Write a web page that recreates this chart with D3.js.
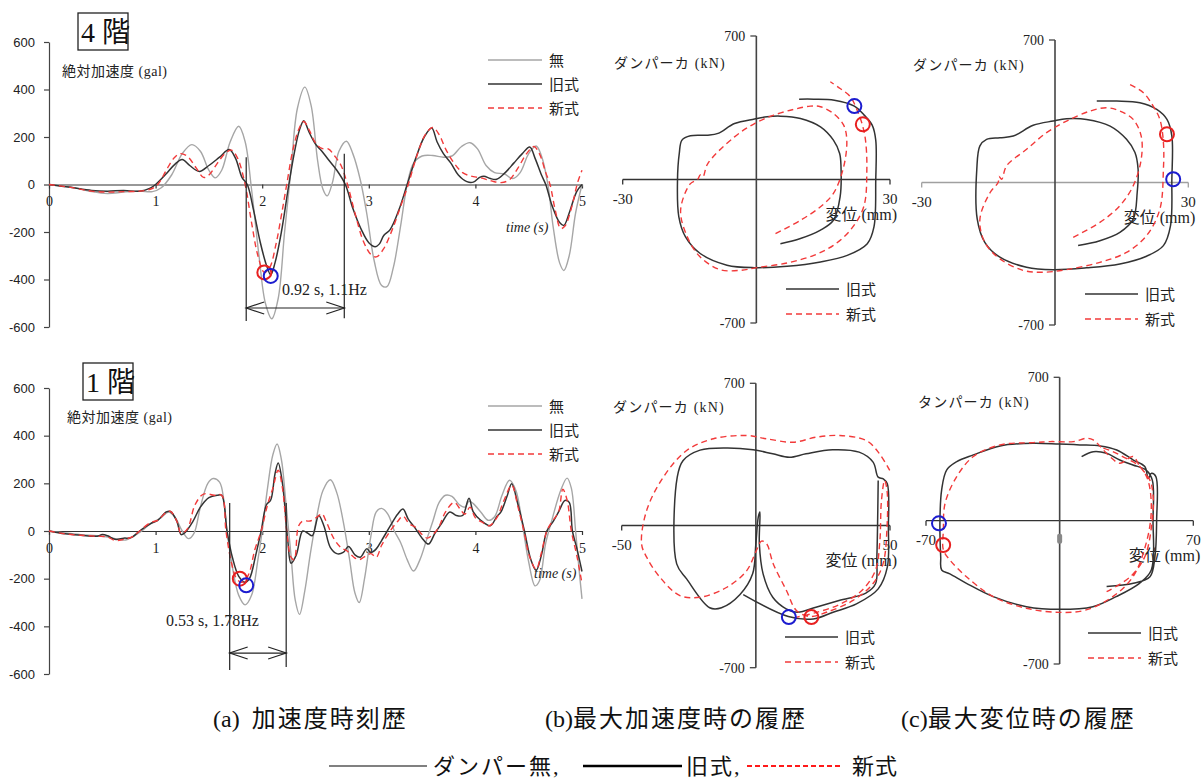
<!DOCTYPE html>
<html>
<head>
<meta charset="utf-8">
<script src="https://cdn.jsdelivr.net/npm/d3@7"></script>
<style>
  html, body { margin: 0; padding: 0; background: #fff; }
  svg { display: block; }
  text { white-space: pre; }
</style>
</head>
<body>
<svg id="fig" width="1203" height="779"></svg>
<script>
// ---------- data ----------
const timeTicks = [0, 1, 2, 3, 4, 5];
const galTicks = [-600, -400, -200, 0, 200, 400, 600];

// absolute acceleration, 4th floor [time s, gal]
const acc4None = [[0,0],[0.2,-10],[0.4,-30],[0.55,-38],[0.7,-32],[0.85,-28],[0.97,-30],[1.05,-15],[1.15,40],[1.25,130],[1.34,168],[1.42,140],[1.5,60],[1.56,28],[1.62,60],[1.7,180],[1.78,245],[1.84,180],[1.9,-20],[1.97,-300],[2.03,-500],[2.09,-565],[2.15,-480],[2.21,-200],[2.27,60],[2.33,320],[2.4,410],[2.46,330],[2.52,100],[2.57,-20],[2.61,-48],[2.66,10],[2.72,140],[2.79,182],[2.85,130],[2.92,20],[2.98,-120],[3.05,-320],[3.12,-425],[3.17,-430],[3.23,-350],[3.3,-170],[3.36,0],[3.42,90],[3.5,120],[3.6,122],[3.7,115],[3.78,120],[3.87,160],[3.95,176],[4.02,150],[4.1,80],[4.18,50],[4.27,45],[4.35,25],[4.42,50],[4.5,130],[4.57,162],[4.62,120],[4.68,0],[4.73,-180],[4.79,-330],[4.83,-362],[4.88,-300],[4.94,-120],[5,0]];
const acc4Old = [[0,0],[0.2,-12],[0.4,-25],[0.55,-28],[0.7,-25],[0.85,-28],[0.95,-15],[1.0,0],[1.1,45],[1.18,85],[1.25,105],[1.32,80],[1.41,55],[1.5,80],[1.6,115],[1.69,147],[1.75,110],[1.81,30],[1.86,0],[1.92,-110],[1.98,-240],[2.04,-340],[2.08,-380],[2.12,-330],[2.18,-200],[2.25,0],[2.3,130],[2.35,230],[2.39,268],[2.44,220],[2.5,170],[2.56,140],[2.62,105],[2.7,60],[2.78,0],[2.85,-100],[2.93,-190],[3.0,-245],[3.06,-262],[3.1,-250],[3.14,-215],[3.2,-190],[3.28,-110],[3.36,0],[3.44,110],[3.52,200],[3.59,238],[3.64,180],[3.7,130],[3.77,90],[3.84,40],[3.92,12],[3.98,10],[4.04,30],[4.08,35],[4.14,25],[4.2,22],[4.28,50],[4.36,90],[4.44,130],[4.51,158],[4.56,110],[4.62,40],[4.66,0],[4.72,-90],[4.79,-160],[4.83,-172],[4.88,-120],[4.95,-30],[5,0]];
const acc4New = [[0,0],[0.2,-12],[0.4,-28],[0.55,-32],[0.7,-30],[0.85,-28],[0.95,-20],[1.02,0],[1.1,60],[1.17,110],[1.23,130],[1.3,118],[1.38,70],[1.45,30],[1.5,40],[1.58,90],[1.65,130],[1.71,145],[1.77,110],[1.84,0],[1.9,-160],[1.96,-300],[2.02,-370],[2.07,-350],[2.13,-250],[2.18,-130],[2.23,0],[2.29,150],[2.35,240],[2.39,265],[2.44,230],[2.5,175],[2.56,152],[2.62,150],[2.68,120],[2.74,80],[2.8,0],[2.87,-120],[2.95,-240],[3.02,-295],[3.07,-305],[3.14,-270],[3.22,-190],[3.3,-90],[3.37,0],[3.45,120],[3.53,210],[3.6,240],[3.66,210],[3.72,150],[3.8,90],[3.88,50],[3.96,35],[4.05,28],[4.15,15],[4.24,8],[4.32,20],[4.4,70],[4.48,130],[4.55,160],[4.6,130],[4.66,50],[4.7,0],[4.75,-110],[4.8,-185],[4.84,-175],[4.9,-100],[4.96,10],[5,60]];

// absolute acceleration, 1st floor [time s, gal]
const acc1None = [[0,0],[0.15,-8],[0.3,-15],[0.45,-20],[0.55,-25],[0.65,-35],[0.72,-38],[0.8,-20],[0.87,0],[0.95,30],[1.05,55],[1.12,80],[1.18,60],[1.25,0],[1.31,-32],[1.36,-10],[1.42,100],[1.49,200],[1.54,220],[1.6,205],[1.64,130],[1.67,0],[1.72,-150],[1.78,-270],[1.84,-310],[1.9,-270],[1.96,-120],[2.0,0],[2.05,180],[2.1,320],[2.14,365],[2.18,300],[2.22,130],[2.27,-100],[2.31,-290],[2.35,-350],[2.4,-250],[2.45,-100],[2.5,30],[2.57,170],[2.64,215],[2.7,160],[2.76,40],[2.82,-120],[2.87,-260],[2.91,-300],[2.96,-200],[3.02,-20],[3.07,80],[3.12,95],[3.18,70],[3.24,0],[3.3,-50],[3.36,-120],[3.42,-168],[3.48,-120],[3.54,-40],[3.6,40],[3.66,120],[3.72,150],[3.78,145],[3.85,110],[3.9,100],[3.94,125],[3.98,115],[4.05,80],[4.12,45],[4.18,60],[4.25,150],[4.32,213],[4.38,170],[4.44,30],[4.5,-130],[4.56,-230],[4.6,-210],[4.66,-50],[4.72,50],[4.8,170],[4.86,222],[4.9,180],[4.94,0],[4.97,-150],[5,-285]];
const acc1Old = [[0,0],[0.15,-12],[0.3,-18],[0.45,-22],[0.5,-15],[0.55,-20],[0.62,-35],[0.7,-30],[0.77,-28],[0.85,0],[0.95,30],[1.02,45],[1.1,80],[1.14,82],[1.2,40],[1.24,-15],[1.28,-5],[1.35,40],[1.42,100],[1.5,140],[1.58,150],[1.62,150],[1.67,0],[1.72,-110],[1.78,-190],[1.84,-215],[1.88,-200],[1.94,-100],[1.99,0],[2.04,110],[2.08,130],[2.12,240],[2.15,285],[2.19,200],[2.24,-40],[2.27,-135],[2.32,-100],[2.38,0],[2.43,-10],[2.47,-20],[2.53,65],[2.58,20],[2.64,-70],[2.7,-95],[2.76,-90],[2.81,-65],[2.87,-100],[2.92,-110],[2.98,-75],[3.02,-90],[3.07,-75],[3.12,-40],[3.2,20],[3.27,70],[3.32,92],[3.37,50],[3.43,15],[3.5,-30],[3.56,-55],[3.62,-10],[3.68,30],[3.76,80],[3.82,65],[3.88,65],[3.94,137],[3.98,80],[4.05,45],[4.14,22],[4.2,60],[4.24,80],[4.3,150],[4.34,198],[4.4,110],[4.46,0],[4.52,-120],[4.57,-165],[4.62,-100],[4.67,0],[4.73,40],[4.78,80],[4.84,128],[4.88,120],[4.91,0],[4.95,-70],[5,-170]];
const acc1New = [[0,0],[0.15,-12],[0.3,-18],[0.45,-22],[0.55,-25],[0.62,-40],[0.7,-35],[0.78,-25],[0.85,0],[0.95,35],[1.02,45],[1.1,78],[1.14,82],[1.2,40],[1.24,-10],[1.3,10],[1.37,110],[1.45,155],[1.55,150],[1.62,150],[1.66,0],[1.71,-130],[1.76,-200],[1.81,-215],[1.87,-185],[1.93,-80],[1.99,0],[2.05,110],[2.1,180],[2.15,255],[2.19,180],[2.23,0],[2.27,-110],[2.3,-120],[2.34,20],[2.38,42],[2.45,42],[2.52,60],[2.56,72],[2.6,40],[2.67,-30],[2.74,-70],[2.8,-85],[2.86,-110],[2.91,-120],[2.97,-105],[3.02,-95],[3.07,-110],[3.12,-60],[3.2,0],[3.27,40],[3.32,62],[3.38,30],[3.44,15],[3.5,-15],[3.55,-30],[3.6,-15],[3.65,10],[3.72,80],[3.8,120],[3.86,90],[3.9,70],[3.95,100],[4.0,55],[4.07,35],[4.13,22],[4.2,55],[4.27,130],[4.34,192],[4.4,100],[4.46,-10],[4.51,-110],[4.57,-160],[4.62,-90],[4.67,0],[4.72,40],[4.78,80],[4.82,175],[4.86,130],[4.9,0],[4.95,-100],[5,-220]];

// peak points picked on the time histories [time s, gal]
const peak4Old = [2.08, -385];
const peak4New = [2.02, -370];
const peak1Old = [1.85, -228];
const peak1New = [1.79, -200];

// period brackets: [start s, end s, label]
const period4 = [1.85, 2.77, "0.92 s, 1.1Hz"];
const period1 = [1.695, 2.225, "0.53 s, 1.78Hz"];

// damper force vs displacement [mm, kN]
// (b) at max acceleration, 4th floor
const hysB4Old = [[5.4,-313],[9.9,-288],[14.4,-247],[17.3,-199],[18.8,-85],[19.0,62],[18.7,127],[17.3,192],[14.4,257],[9.9,298],[5.4,309],[2.4,306],[-0.4,295],[-4.9,273],[-8.6,225],[-10.9,216],[-14.8,213],[-16.7,192],[-17.3,127],[-17.7,-3],[-17.4,-182],[-15.9,-280],[-12.6,-361],[-6.6,-418],[-0.4,-430],[6.9,-423],[14.4,-402],[20.4,-370],[24.9,-313],[26.4,-231],[26.8,-3],[26.8,192],[26.0,265],[24.2,314],[22.0,358],[17.5,387],[12.9,392],[9.6,392]];
const hysB4New = [[4.3,-264],[9.9,-199],[14.4,-133],[17.3,-68],[19.6,62],[20.3,192],[19.6,265],[17.3,322],[14.4,355],[12.1,358],[8.4,342],[3.9,314],[-0.4,273],[-4.9,208],[-10.9,78],[-12.0,13],[-12.6,22],[-13.2,0],[-14.8,-20],[-17.0,-150],[-15.5,-280],[-12.6,-378],[-8.1,-440],[-3.6,-443],[0.1,-430],[6.9,-407],[12.9,-370],[17.3,-321],[21.1,-247],[24.1,-133],[24.8,46],[24.5,192],[23.7,274],[22.6,339],[21.1,404],[18.8,444],[16.6,477]];
const markB4 = { old: [22.0, 358], neu: [23.9, 269] };

// (c) at max displacement, 4th floor
const hysC4Old = [[5.2,-310],[10.1,-286],[14.6,-245],[17.6,-180],[18.5,-49],[18.7,65],[18.0,147],[16.1,212],[12.4,277],[7.1,310],[2.6,313],[-0.4,302],[-4.9,281],[-9.4,228],[-12.4,220],[-15.4,212],[-16.9,180],[-17.6,65],[-17.5,-180],[-15.8,-294],[-12.4,-367],[-6.4,-416],[-0.4,-428],[7.1,-419],[14.6,-400],[20.6,-362],[24.4,-310],[26.0,-212],[26.3,16],[26.3,228],[25.2,310],[22.9,359],[19.1,392],[13.9,400],[9.4,400]];
const hysC4New = [[4.1,-269],[10.1,-196],[14.6,-114],[17.6,-16],[19.4,114],[19.4,228],[17.6,310],[14.6,351],[11.6,367],[7.9,351],[2.6,302],[-1.9,245],[-6.4,163],[-10.9,82],[-12.0,16],[-12.6,30],[-12.8,0],[-14.6,-49],[-16.9,-180],[-15.8,-294],[-12.4,-375],[-7.1,-432],[-2.6,-441],[2.6,-428],[10.1,-392],[16.1,-343],[20.6,-261],[23.6,-131],[24.4,65],[24.4,196],[23.6,310],[22.1,375],[19.9,441],[16.9,481]];
const markC4 = { old: [26.6, 16], neu: [25.2, 237] };

// (b) at max acceleration, 1st floor
const hysB1Old = [[-4.7,-340],[12.1,-448],[21.4,-460],[28.8,-427],[37.5,-386],[45.6,-312],[49.0,-205],[49.4,-8],[49.0,205],[47.5,230],[45.6,238],[43.7,312],[38.5,361],[28.6,373],[18.7,353],[12.5,336],[6.3,353],[-1.0,373],[-10.9,382],[-20.8,371],[-27.1,320],[-29.3,238],[-29.5,-189],[-25.8,-263],[-17.2,-405],[-12.8,-405],[-5.9,-340],[-1.2,-238],[0.0,-90],[0.9,41],[1.5,66],[1.3,-90],[2.7,-238],[6.3,-353],[11.3,-410],[15.6,-427],[22.4,-402],[31.0,-369],[41.0,-333],[44.6,-287],[45.1,-156],[45.6,222]];
const hysB1New = [[49.9,271],[46.1,353],[41.2,418],[31.3,443],[22.6,435],[13.9,410],[4.0,427],[-3.4,443],[-15.8,427],[-25.8,369],[-34.5,238],[-40.7,74],[-42.6,-90],[-40.7,-156],[-35.8,-254],[-28.3,-345],[-20.8,-353],[-10.8,-304],[-3.4,-222],[0.2,-123],[2.1,-77],[4.0,-90],[6.5,-189],[11.4,-320],[15.1,-418],[20.1,-448],[26.3,-427],[36.2,-369],[43.6,-287],[47.4,-189],[48.9,-8],[48.9,172],[48.0,222],[46.8,120],[46.2,-80],[44.6,-220],[39.5,-320],[31.0,-390],[22.0,-430],[15.0,-452]];
const markB1 = { old: [12.3, -451], neu: [20.7, -451] };

// (c) at max displacement, 1st floor
const hysC1Old = [[24.6,-322],[38.6,-306],[47.3,-274],[49.9,-176],[50.8,3],[50.4,215],[48.1,231],[46.4,207],[44.6,264],[38.6,296],[29.9,345],[21.2,365],[10.6,370],[-0.2,374],[-13.8,378],[-31.2,365],[-45.2,321],[-53.9,288],[-59.2,247],[-61.8,150],[-62.7,0],[-62.3,-176],[-61.8,-241],[-57.5,-260],[-48.8,-306],[-34.8,-371],[-17.4,-420],[0.0,-433],[17.4,-420],[29.6,-371],[41.8,-306],[48.0,-241],[48.9,3],[48.5,199],[45.3,247],[38.4,272],[31.5,296],[24.6,329],[17.6,337],[11.5,313]];
const hysC1New = [[24.6,-347],[37.0,-274],[44.6,-176],[48.1,-29],[49.0,117],[47.2,199],[42.0,264],[38.4,313],[31.5,280],[26.3,313],[17.6,394],[14.1,402],[7.2,386],[-5.0,386],[-13.8,381],[-31.2,370],[-45.2,313],[-53.9,215],[-60.0,85],[-60.9,-46],[-60.9,-143],[-57.5,-192],[-48.8,-274],[-34.8,-371],[-17.4,-428],[0.0,-448],[13.9,-436],[27.8,-371],[38.4,-274],[45.3,-111],[48.0,52],[46.2,199],[42.0,264],[34.9,304],[27.8,337],[20.9,361]];
const markC1 = { old: [-63.2, -13], neu: [-61.0, -119] };

const seriesNames = ["無", "旧式", "新式"];
const captionTags = ["(a)  ", "(b)", "(c)"];
const captionTexts = ["加速度時刻歴", "最大加速度時の履歴", "最大変位時の履歴"];
const footLegend = ["ダンパー無,", "旧式,", "新式"];

// ---------- styles ----------
const C_NONE = "#a6a6a6", C_OLD = "#333333", C_NEW = "#f23a3a";
const C_BLUE = "#1c1ccf", C_RED = "#e82020";
const SANS = "'Liberation Sans', Arial, sans-serif";
const SERIF = "'Liberation Serif', 'Times New Roman', serif";
const JP = "'Noto Sans CJK JP', sans-serif";
const MIX = "'Liberation Serif', 'Noto Sans CJK JP', serif";

const svg = d3.select("#fig");
const smooth = d3.curveCatmullRom.alpha(0.5);

function styleLine(sel, kind) {
  if (kind === "none") sel.attr("stroke", C_NONE).attr("stroke-width", 1.4);
  else if (kind === "old") sel.attr("stroke", C_OLD).attr("stroke-width", 1.5);
  else sel.attr("stroke", C_NEW).attr("stroke-width", 1.4).attr("stroke-dasharray", "6,4");
  return sel.attr("fill", "none");
}

// ---------- acceleration time history ----------
function timePanel(o) {
  const g = svg.append("g");
  const x = d3.scaleLinear().domain([0, 5]).range([49, 582]);
  const y = d3.scaleLinear().domain([-600, 600]).range([o.yBottom, o.yTop]);

  const yAx = g.append("g").attr("transform", `translate(${x(0)},0)`)
    .call(d3.axisLeft(y).tickValues(galTicks).tickSize(5).tickSizeOuter(0).tickPadding(9)
      .tickFormat(d => String(d)));
  yAx.selectAll("text").attr("font-family", SANS).attr("font-size", 13).attr("fill", "#222");
  yAx.selectAll("line, path").attr("stroke", "#444").attr("stroke-width", 1.2);

  const xAx = g.append("g").attr("transform", `translate(0,${y(0)})`)
    .call(d3.axisBottom(x).tickValues(timeTicks).tickSize(4).tickSizeOuter(0).tickPadding(8)
      .tickFormat(d => String(d)));
  xAx.selectAll("text").attr("font-family", SERIF).attr("font-size", 14).attr("fill", "#222");
  xAx.selectAll("line, path").attr("stroke", "#333").attr("stroke-width", 1.2);

  const line = d3.line().x(d => x(d[0])).y(d => y(d[1])).curve(smooth);
  styleLine(g.append("path").attr("d", line(o.none)), "none");
  styleLine(g.append("path").attr("d", line(o.old)), "old");
  styleLine(g.append("path").attr("d", line(o.neu)), "new");

  // period bracket
  const [t0, t1, label] = o.period;
  const br = g.append("g").attr("stroke", "#222").attr("stroke-width", 1.2).attr("fill", "none");
  br.append("line").attr("x1", x(t0)).attr("x2", x(t0)).attr("y1", y(o.brTop[0])).attr("y2", y(o.brBottom));
  br.append("line").attr("x1", x(t1)).attr("x2", x(t1)).attr("y1", y(o.brTop[1])).attr("y2", y(o.brBottom + 12));
  const ay = y(o.arrowAt);
  br.append("line").attr("x1", x(t0)).attr("x2", x(t1)).attr("y1", ay).attr("y2", ay);
  br.append("path").attr("d", `M${x(t0) + 18},${ay - 6}L${x(t0)},${ay}L${x(t0) + 18},${ay + 6}`);
  br.append("path").attr("d", `M${x(t1) - 18},${ay - 6}L${x(t1)},${ay}L${x(t1) - 18},${ay + 6}`);
  g.append("text").attr("x", o.labelX).attr("y", y(o.labelAt))
    .attr("font-family", SERIF).attr("font-size", 16).attr("fill", "#222").text(label);

  // peak markers
  g.append("circle").attr("cx", x(o.peakNew[0])).attr("cy", y(o.peakNew[1])).attr("r", 7)
    .attr("fill", "none").attr("stroke", C_RED).attr("stroke-width", 2);
  g.append("circle").attr("cx", x(o.peakOld[0])).attr("cy", y(o.peakOld[1])).attr("r", 7)
    .attr("fill", "none").attr("stroke", C_BLUE).attr("stroke-width", 2);

  // floor label box
  g.append("rect").attr("x", o.box[0]).attr("y", o.box[1]).attr("width", 50).attr("height", 37)
    .attr("fill", "none").attr("stroke", "#222").attr("stroke-width", 1.3);
  g.append("text").attr("x", o.box[0] + 3).attr("y", o.box[1] + 29)
    .attr("font-family", MIX).attr("font-size", 28).attr("fill", "#111").text(o.floor);

  g.append("text").attr("x", o.box[0] - 16).attr("y", o.yTop + 34)
    .attr("font-family", MIX).attr("font-size", 14).attr("letter-spacing", 0.5).attr("fill", "#222")
    .text("絶対加速度 (gal)");

  g.append("text").attr("x", o.timeLabelX).attr("y", y(0) + 47)
    .attr("font-family", SERIF).attr("font-style", "italic").attr("font-size", 14).attr("fill", "#222")
    .text("time (s)");

  // series legend
  const kinds = ["none", "old", "new"];
  kinds.forEach((k, i) => {
    const ly = o.yTop + 18 + i * 24;
    styleLine(g.append("line").attr("x1", 488).attr("x2", 542).attr("y1", ly).attr("y2", ly), k);
    g.append("text").attr("x", 549).attr("y", ly + 6).attr("font-family", JP).attr("font-size", 15)
      .attr("fill", "#222").text(seriesNames[i]);
  });
}

timePanel({ yTop: 42, yBottom: 327, none: acc4None, old: acc4Old, neu: acc4New,
  period: period4, brTop: [115, 130], brBottom: -575, arrowAt: -520, labelAt: -465, labelX: 282,
  peakOld: peak4Old, peakNew: peak4New, box: [78, 13], floor: "4 階", timeLabelX: 506 });
timePanel({ yTop: 388, yBottom: 674, none: acc1None, old: acc1Old, neu: acc1New,
  period: period1, brTop: [117, 117], brBottom: -583, arrowAt: -512, labelAt: -400, labelX: 166,
  peakOld: peak1Old, peakNew: peak1New, box: [83, 363], floor: "1 階", timeLabelX: 534 });

// ---------- hysteresis loops ----------
function hysPanel(o) {
  const g = svg.append("g");
  const x = d3.scaleLinear().domain([-o.dMax, o.dMax]).range(o.xr);
  const y = d3.scaleLinear().domain([-700, 700]).range(o.yr);

  // axes through the origin
  g.append("line").attr("x1", x(-o.dMax)).attr("x2", x(o.dMax)).attr("y1", y(0)).attr("y2", y(0))
    .attr("stroke", o.xAxisColor).attr("stroke-width", 1.3);
  [-o.dMax, o.dMax].forEach(d => g.append("line").attr("x1", x(d)).attr("x2", x(d))
    .attr("y1", y(0)).attr("y2", y(0) + 5).attr("stroke", o.xAxisColor).attr("stroke-width", 1.3));
  g.append("line").attr("x1", x(0)).attr("x2", x(0)).attr("y1", y(700)).attr("y2", y(-700))
    .attr("stroke", "#444").attr("stroke-width", 1.6);
  [700, -700].forEach(f => g.append("line").attr("x1", x(0) - 6).attr("x2", x(0))
    .attr("y1", y(f)).attr("y2", y(f)).attr("stroke", "#444").attr("stroke-width", 1.3));

  [700, -700].forEach(f => g.append("text").attr("x", x(0) - 11).attr("y", y(f) + 5)
    .attr("text-anchor", "end").attr("font-family", SERIF).attr("font-size", 14).attr("fill", "#222")
    .text(String(f)));
  [-o.dMax, o.dMax].forEach(d => g.append("text").attr("x", x(d)).attr("y", y(0) + 24)
    .attr("text-anchor", "middle").attr("font-family", SERIF).attr("font-size", 15).attr("fill", "#222")
    .text(String(d)));

  g.append("text").attr("x", o.forceLabel[0]).attr("y", o.forceLabel[1])
    .attr("font-family", MIX).attr("font-size", 14).attr("letter-spacing", 1.2).attr("fill", "#222")
    .text(o.forceText);
  g.append("text").attr("x", x(o.dMax) + 7).attr("y", y(0) + 40).attr("text-anchor", "end")
    .attr("font-family", MIX).attr("font-size", 16).attr("fill", "#222").text("変位 (mm)");

  if (o.originMark) {
    g.append("rect").attr("x", x(0) - 2.5).attr("y", y(0) + 13).attr("width", 5).attr("height", 10)
      .attr("rx", 2).attr("fill", "#888");
  }

  const line = d3.line().x(d => x(d[0])).y(d => y(d[1])).curve(smooth);
  styleLine(g.append("path").attr("d", line(o.old)), "old");
  styleLine(g.append("path").attr("d", line(o.neu)), "new");

  g.append("circle").attr("cx", x(o.mark.old[0])).attr("cy", y(o.mark.old[1])).attr("r", 7)
    .attr("fill", "none").attr("stroke", C_BLUE).attr("stroke-width", 2);
  g.append("circle").attr("cx", x(o.mark.neu[0])).attr("cy", y(o.mark.neu[1])).attr("r", 7)
    .attr("fill", "none").attr("stroke", C_RED).attr("stroke-width", 2);

  // legend
  ["old", "new"].forEach((k, i) => {
    const ly = o.legend[1] + i * 25;
    styleLine(g.append("line").attr("x1", o.legend[0]).attr("x2", o.legend[0] + 53)
      .attr("y1", ly).attr("y2", ly), k);
    g.append("text").attr("x", o.legend[0] + 60).attr("y", ly + 6).attr("font-family", JP)
      .attr("font-size", 15).attr("fill", "#222").text(seriesNames[i + 1]);
  });
}

hysPanel({ dMax: 30, xr: [622.7, 890], yr: [323, 36], old: hysB4Old, neu: hysB4New, mark: markB4,
  xAxisColor: "#333", forceLabel: [614, 68], forceText: "ダンパーカ (kN)", legend: [786, 289] });
hysPanel({ dMax: 30, xr: [921.7, 1188.3], yr: [325, 40], old: hysC4Old, neu: hysC4New, mark: markC4,
  xAxisColor: "#a0a0a0", forceLabel: [913, 70], forceText: "ダンパーカ (kN)", legend: [1085, 294] });
hysPanel({ dMax: 50, xr: [621.7, 890], yr: [667.7, 383.3], old: hysB1Old, neu: hysB1New, mark: markB1,
  xAxisColor: "#333", forceLabel: [613, 412], forceText: "ダンパーカ (kN)", legend: [785, 637] });
hysPanel({ dMax: 70, xr: [926, 1193.3], yr: [664, 377.3], old: hysC1Old, neu: hysC1New, mark: markC1,
  xAxisColor: "#333", forceLabel: [918, 407], forceText: "タンパーカ (kN)", legend: [1088, 633],
  originMark: true });

// ---------- captions ----------
const capX = [213, 545, 901];
captionTags.forEach((tag, i) => {
  const t = svg.append("text").attr("x", capX[i]).attr("y", 727)
    .attr("font-size", 24).attr("fill", "#111");
  t.append("tspan").attr("font-family", SERIF).text(tag);
  t.append("tspan").attr("font-family", JP).attr("letter-spacing", 2).text(captionTexts[i]);
});

// ---------- bottom legend ----------
const fy = 766;
svg.append("line").attr("x1", 329).attr("x2", 427).attr("y1", fy).attr("y2", fy)
  .attr("stroke", "#808080").attr("stroke-width", 2);
svg.append("text").attr("x", 433).attr("y", fy + 8).attr("font-family", MIX).attr("font-size", 22)
  .attr("letter-spacing", 2).attr("fill", "#111").text(footLegend[0]);
svg.append("line").attr("x1", 583).attr("x2", 682).attr("y1", fy).attr("y2", fy)
  .attr("stroke", "#000").attr("stroke-width", 2.6);
svg.append("text").attr("x", 686).attr("y", fy + 8).attr("font-family", MIX).attr("font-size", 22)
  .attr("letter-spacing", 2).attr("fill", "#111").text(footLegend[1]);
svg.append("line").attr("x1", 747).attr("x2", 840).attr("y1", fy).attr("y2", fy)
  .attr("stroke", "#ff1a1a").attr("stroke-width", 2).attr("stroke-dasharray", "5,3");
svg.append("text").attr("x", 852).attr("y", fy + 8).attr("font-family", MIX).attr("font-size", 22)
  .attr("letter-spacing", 1).attr("fill", "#111").text(footLegend[2]);
</script>
</body>
</html>
